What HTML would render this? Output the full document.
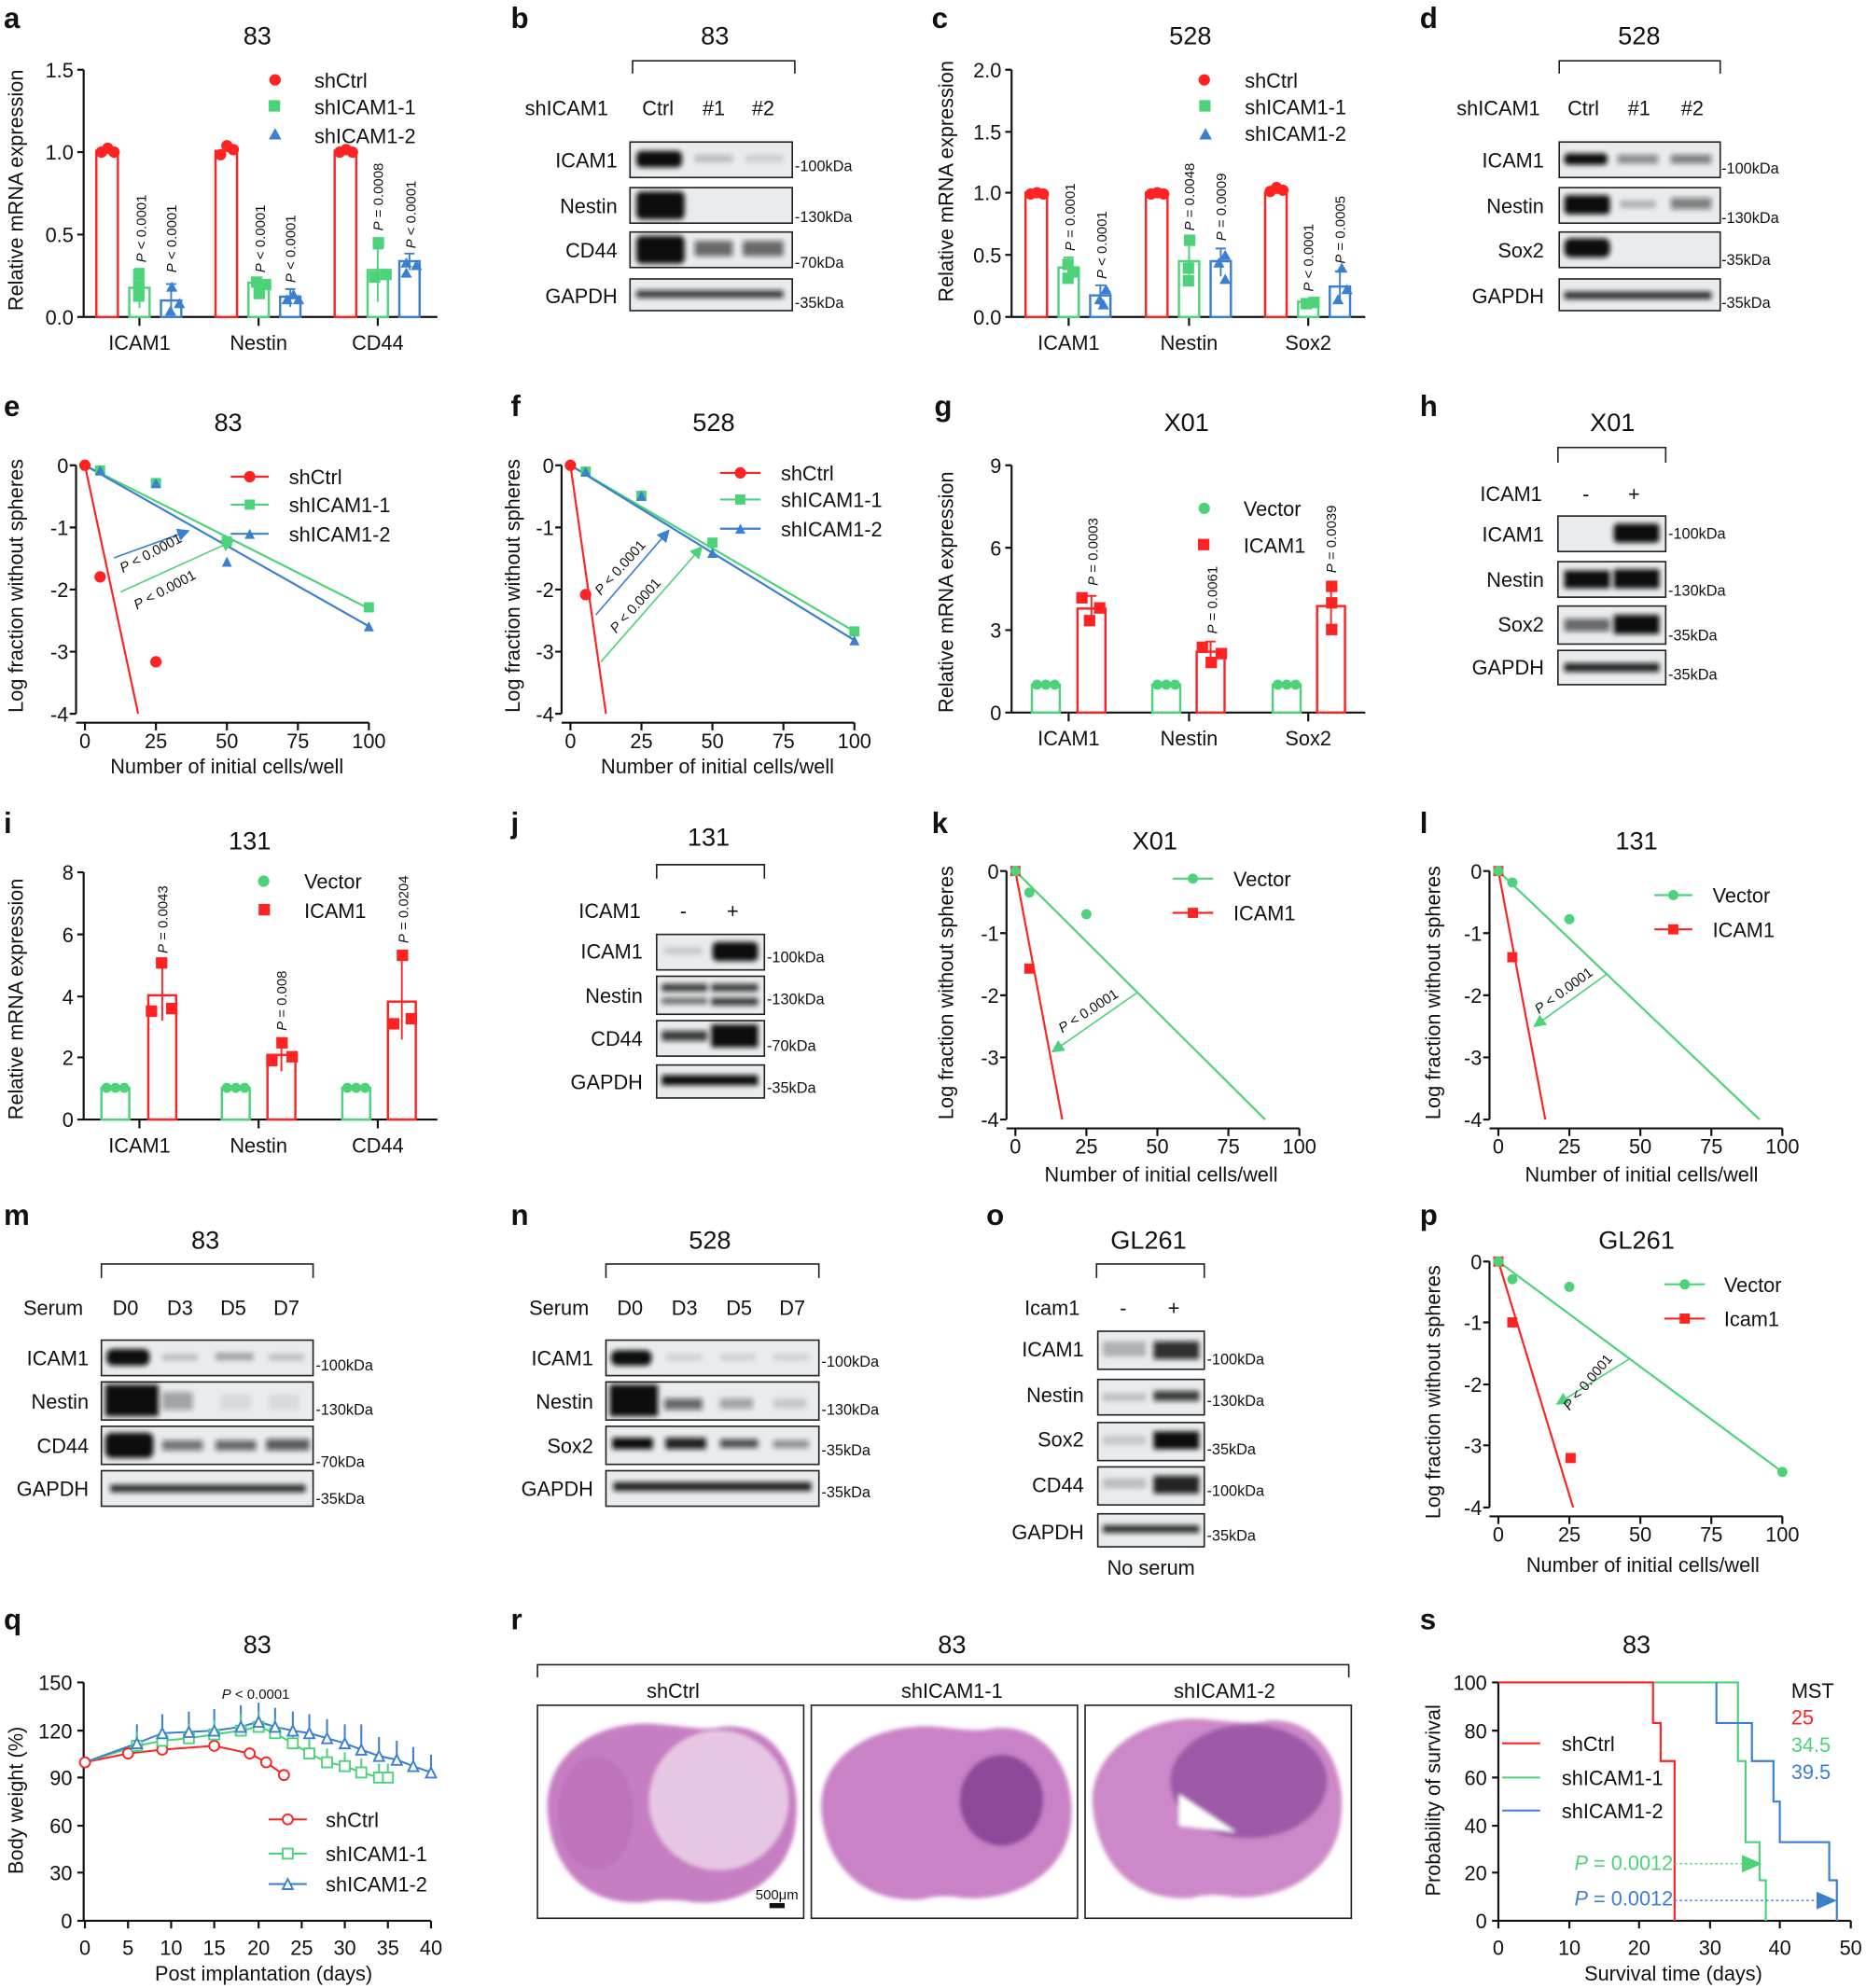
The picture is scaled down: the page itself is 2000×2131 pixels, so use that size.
<!DOCTYPE html>
<html><head><meta charset="utf-8"><style>
html,body{margin:0;padding:0;background:#fff}
svg{display:block}
text{font-family:"Liberation Sans",Arial,sans-serif;fill:#111}
.t{font-size:16px}.ti{font-size:20px}.L{font-size:23px;font-weight:bold}.s{font-size:12px}.p{font-size:11px}
.ax{stroke:#111;stroke-width:1.6;fill:none}
.bx{fill:#e9ecee;stroke:#222;stroke-width:1.2}
.br{fill:none;stroke:#222;stroke-width:1.2}
</style></head><body>
<svg width="2000" height="2131" viewBox="0 0 1472 1568" preserveAspectRatio="none" xmlns="http://www.w3.org/2000/svg">
<defs>
<filter id="bl" x="-30%" y="-80%" width="160%" height="260%"><feGaussianBlur stdDeviation="2"/></filter>
<filter id="bs"><feGaussianBlur stdDeviation="1.5"/></filter>
<marker id="ag" markerWidth="10" markerHeight="10" refX="8" refY="5" orient="auto" markerUnits="userSpaceOnUse"><path d="M0,0L10,5L0,10z" fill="#4cd37a"/></marker>
<marker id="ab" markerWidth="10" markerHeight="10" refX="8" refY="5" orient="auto" markerUnits="userSpaceOnUse"><path d="M0,0L10,5L0,10z" fill="#3b7fd0"/></marker>
<marker id="ag2" markerWidth="16" markerHeight="14" refX="14" refY="7" orient="auto" markerUnits="userSpaceOnUse"><path d="M0,0L16,7L0,14z" fill="#4cd37a"/></marker>
<marker id="ab2" markerWidth="16" markerHeight="14" refX="14" refY="7" orient="auto" markerUnits="userSpaceOnUse"><path d="M0,0L16,7L0,14z" fill="#3b7fd0"/></marker>
</defs>
<rect width="1472" height="1568" fill="#fff"/>

<text x="3" y="22" class="L">a</text><text x="403" y="22" class="L">b</text><text x="735" y="22" class="L">c</text><text x="1120" y="22" class="L">d</text>
<text x="3" y="328" class="L">e</text><text x="403" y="328" class="L">f</text><text x="737" y="328" class="L">g</text><text x="1120" y="328" class="L">h</text>
<text x="3" y="657" class="L">i</text><text x="403" y="657" class="L">j</text><text x="735" y="657" class="L">k</text><text x="1120" y="657" class="L">l</text>
<text x="3" y="966" class="L">m</text><text x="403" y="966" class="L">n</text><text x="778" y="966" class="L">o</text><text x="1120" y="966" class="L">p</text>
<text x="3" y="1285" class="L">q</text><text x="403" y="1285" class="L">r</text><text x="1120" y="1285" class="L">s</text>

<!-- ============ a ============ -->
<text x="203" y="35" class="ti" text-anchor="middle">83</text>
<text transform="translate(18,150) rotate(-90)" class="t" text-anchor="middle">Relative mRNA expression</text>
<path class="ax" d="M66,55V250H345M61,55H66M61,120H66M61,185H66M61,250H66M110,250V257M204,250V257M298,250V257"/>
<g class="t" text-anchor="end"><text x="58" y="61">1.5</text><text x="58" y="126">1.0</text><text x="58" y="191">0.5</text><text x="58" y="256">0.0</text></g>
<g class="t" text-anchor="middle"><text x="110" y="276">ICAM1</text><text x="204" y="276">Nestin</text><text x="298" y="276">CD44</text></g>
<g fill="#fff" stroke-width="1.8">
<rect x="76" y="119" width="17" height="131" stroke="#f22"/><rect x="102" y="227" width="16" height="23" stroke="#4cd37a"/><rect x="127" y="237" width="16" height="13" stroke="#3b7fd0"/>
<rect x="170" y="119" width="17" height="131" stroke="#f22"/><rect x="196" y="223" width="16" height="27" stroke="#4cd37a"/><rect x="221" y="234" width="16" height="16" stroke="#3b7fd0"/>
<rect x="264" y="119" width="17" height="131" stroke="#f22"/><rect x="290" y="213" width="16" height="37" stroke="#4cd37a"/><rect x="315" y="206" width="16" height="44" stroke="#3b7fd0"/>
</g>
<g stroke-width="1.4" fill="none"><path d="M110,212V243M106,212H114" stroke="#4cd37a"/><path d="M135,224V249M131,224H139" stroke="#3b7fd0"/><path d="M229,228V242M225,228H233" stroke="#3b7fd0"/><path d="M298,196V238M294,196H302" stroke="#4cd37a"/><path d="M323,200V213M319,200H327" stroke="#3b7fd0"/></g>
<g fill="#f22"><circle cx="80" cy="120" r="4.5"/><circle cx="85" cy="117" r="4.5"/><circle cx="90" cy="120" r="4.5"/><circle cx="174" cy="122" r="4.5"/><circle cx="179" cy="115" r="4.5"/><circle cx="184" cy="118" r="4.5"/><circle cx="268" cy="120" r="4.5"/><circle cx="273" cy="118" r="4.5"/><circle cx="278" cy="120" r="4.5"/></g>
<g fill="#4cd37a"><rect x="105" y="212" width="9" height="9"/><rect x="105" y="221" width="9" height="9"/><rect x="105" y="229" width="9" height="9"/><rect x="198" y="218" width="9" height="9"/><rect x="205" y="220" width="9" height="9"/><rect x="200" y="227" width="9" height="9"/><rect x="294" y="187" width="9" height="9"/><rect x="291" y="214" width="9" height="9"/><rect x="300" y="212" width="9" height="9"/></g>
<g fill="#3b7fd0"><path d="M130,249l4.5,-8l4.5,8z M131,230l4.5,-8l4.5,8z M137,243l4.5,-8l4.5,8z M222,240l4.5,-8l4.5,8z M227,236l4.5,-8l4.5,8z M231,240l4.5,-8l4.5,8z M316,219l4.5,-8l4.5,8z M316,211l4.5,-8l4.5,8z M324,213l4.5,-8l4.5,8z"/></g>
<g class="p" font-style="normal">
<text transform="translate(115,207) rotate(-90)" class="p"><tspan font-style="italic">P</tspan> &lt; 0.0001</text>
<text transform="translate(139,215) rotate(-90)" class="p"><tspan font-style="italic">P</tspan> &lt; 0.0001</text>
<text transform="translate(209,215) rotate(-90)" class="p"><tspan font-style="italic">P</tspan> &lt; 0.0001</text>
<text transform="translate(233,223) rotate(-90)" class="p"><tspan font-style="italic">P</tspan> &lt; 0.0001</text>
<text transform="translate(302,182) rotate(-90)" class="p"><tspan font-style="italic">P</tspan> = 0.0008</text>
<text transform="translate(328,196) rotate(-90)" class="p"><tspan font-style="italic">P</tspan> &lt; 0.0001</text>
</g>
<circle cx="217" cy="63" r="4.5" fill="#f22"/><rect x="212" y="79" width="9" height="9" fill="#4cd37a"/><path d="M212,110l5,-9l5,9z" fill="#3b7fd0"/>
<g class="t"><text x="248" y="69">shCtrl</text><text x="248" y="90">shICAM1-1</text><text x="248" y="113">shICAM1-2</text></g>

<!-- ============ b ============ -->
<text x="564" y="35" class="ti" text-anchor="middle">83</text>
<path class="br" d="M499,58V48H627V58"/>
<g class="t" text-anchor="middle"><text x="447" y="91">shICAM1</text><text x="519" y="91">Ctrl</text><text x="563" y="91">#1</text><text x="602" y="91">#2</text></g>
<g class="t" text-anchor="end"><text x="487" y="132">ICAM1</text><text x="487" y="168">Nestin</text><text x="487" y="203">CD44</text><text x="487" y="239">GAPDH</text></g>
<rect class="bx" x="497" y="112" width="128" height="28"/><rect class="bx" x="497" y="148" width="128" height="28"/><rect class="bx" x="497" y="183" width="128" height="28"/><rect class="bx" x="497" y="220" width="128" height="25"/>
<g fill="#111" filter="url(#bl)">
<rect x="502" y="119" width="36" height="13" rx="4"/><rect x="548" y="122" width="30" height="6" opacity=".2"/><rect x="588" y="122" width="30" height="6" opacity=".12"/>
<rect x="502" y="151" width="38" height="22" rx="4"/>
<rect x="502" y="186" width="38" height="22" rx="4"/><rect x="548" y="190" width="30" height="12" opacity=".6"/><rect x="586" y="190" width="32" height="12" opacity=".6"/>
<rect x="502" y="229" width="116" height="6" opacity=".8"/>
</g>
<g class="s"><text x="627" y="135">-100kDa</text><text x="627" y="175">-130kDa</text><text x="627" y="211">-70kDa</text><text x="627" y="243">-35kDa</text></g>

<!-- ============ c ============ -->
<text x="939" y="35" class="ti" text-anchor="middle">528</text>
<text transform="translate(752,143) rotate(-90)" class="t" text-anchor="middle">Relative mRNA expression</text>
<path class="ax" d="M798,55V250H1077M793,55H798M793,104H798M793,152H798M793,201H798M793,250H798M843,250V257M938,250V257M1032,250V257"/>
<g class="t" text-anchor="end"><text x="790" y="61">2.0</text><text x="790" y="110">1.5</text><text x="790" y="158">1.0</text><text x="790" y="207">0.5</text><text x="790" y="256">0.0</text></g>
<g class="t" text-anchor="middle"><text x="843" y="276">ICAM1</text><text x="938" y="276">Nestin</text><text x="1032" y="276">Sox2</text></g>
<g fill="#fff" stroke-width="1.8">
<rect x="809" y="152" width="17" height="98" stroke="#f22"/><rect x="835" y="211" width="16" height="39" stroke="#4cd37a"/><rect x="860" y="233" width="16" height="17" stroke="#3b7fd0"/>
<rect x="904" y="152" width="17" height="98" stroke="#f22"/><rect x="930" y="206" width="16" height="44" stroke="#4cd37a"/><rect x="955" y="206" width="16" height="44" stroke="#3b7fd0"/>
<rect x="998" y="152" width="17" height="98" stroke="#f22"/><rect x="1024" y="238" width="16" height="12" stroke="#4cd37a"/><rect x="1049" y="226" width="16" height="24" stroke="#3b7fd0"/>
</g>
<g stroke-width="1.4"><path d="M843,203V218M839,203H847" stroke="#4cd37a"/><path d="M868,225V241M864,225H872" stroke="#3b7fd0"/><path d="M938,188V225M934,188H942" stroke="#4cd37a"/><path d="M963,196V218M959,196H967" stroke="#3b7fd0"/><path d="M1057,214V238M1053,214H1061" stroke="#3b7fd0"/></g>
<g fill="#f22"><circle cx="813" cy="153" r="4.5"/><circle cx="818" cy="152" r="4.5"/><circle cx="823" cy="153" r="4.5"/><circle cx="908" cy="153" r="4.5"/><circle cx="913" cy="152" r="4.5"/><circle cx="918" cy="153" r="4.5"/><circle cx="1002" cy="151" r="4.5"/><circle cx="1007" cy="148" r="4.5"/><circle cx="1012" cy="150" r="4.5"/></g>
<g fill="#4cd37a"><rect x="838" y="204" width="9" height="9"/><rect x="842" y="210" width="9" height="9"/><rect x="838" y="215" width="9" height="9"/><rect x="934" y="185" width="9" height="9"/><rect x="933" y="207" width="9" height="9"/><rect x="933" y="217" width="9" height="9"/><rect x="1026" y="235" width="9" height="9"/><rect x="1032" y="234" width="9" height="9"/></g>
<g fill="#3b7fd0"><path d="M863,240l4.5,-8l4.5,8z M868,232l4.5,-8l4.5,8z M866,244l4.5,-8l4.5,8z M957,211l4.5,-8l4.5,8z M962,205l4.5,-8l4.5,8z M962,224l4.5,-8l4.5,8z M1051,240l4.5,-8l4.5,8z M1054,215l4.5,-8l4.5,8z M1058,232l4.5,-8l4.5,8z"/></g>
<text transform="translate(848,198) rotate(-90)" class="p"><tspan font-style="italic">P</tspan> = 0.0001</text>
<text transform="translate(873,220) rotate(-90)" class="p"><tspan font-style="italic">P</tspan> &lt; 0.0001</text>
<text transform="translate(942,182) rotate(-90)" class="p"><tspan font-style="italic">P</tspan> = 0.0048</text>
<text transform="translate(967,190) rotate(-90)" class="p"><tspan font-style="italic">P</tspan> = 0.0009</text>
<text transform="translate(1036,230) rotate(-90)" class="p"><tspan font-style="italic">P</tspan> &lt; 0.0001</text>
<text transform="translate(1061,208) rotate(-90)" class="p"><tspan font-style="italic">P</tspan> = 0.0005</text>
<circle cx="950" cy="63" r="4.5" fill="#f22"/><rect x="946" y="79" width="9" height="9" fill="#4cd37a"/><path d="M946,110l5,-9l5,9z" fill="#3b7fd0"/>
<g class="t"><text x="982" y="69">shCtrl</text><text x="982" y="90">shICAM1-1</text><text x="982" y="111">shICAM1-2</text></g>

<!-- ============ d ============ -->
<text x="1293" y="35" class="ti" text-anchor="middle">528</text>
<path class="br" d="M1230,58V48H1357V58"/>
<g class="t" text-anchor="middle"><text x="1182" y="91">shICAM1</text><text x="1249" y="91">Ctrl</text><text x="1293" y="91">#1</text><text x="1335" y="91">#2</text></g>
<g class="t" text-anchor="end"><text x="1218" y="132">ICAM1</text><text x="1218" y="168">Nestin</text><text x="1218" y="203">Sox2</text><text x="1218" y="239">GAPDH</text></g>
<rect class="bx" x="1230" y="112" width="127" height="28"/><rect class="bx" x="1230" y="148" width="127" height="28"/><rect class="bx" x="1230" y="183" width="127" height="28"/><rect class="bx" x="1230" y="220" width="127" height="25"/>
<g fill="#111" filter="url(#bl)">
<rect x="1234" y="121" width="34" height="9" rx="3"/><rect x="1276" y="122" width="32" height="7" opacity=".45"/><rect x="1318" y="122" width="32" height="7" opacity=".5"/>
<rect x="1234" y="154" width="36" height="15" rx="3"/><rect x="1278" y="158" width="28" height="6" opacity=".25"/><rect x="1318" y="156" width="32" height="9" opacity=".5"/>
<rect x="1234" y="188" width="36" height="15" rx="5"/>
<rect x="1234" y="230" width="116" height="6" opacity=".85"/>
</g>
<g class="s"><text x="1358" y="137">-100kDa</text><text x="1358" y="176">-130kDa</text><text x="1358" y="209">-35kDa</text><text x="1358" y="243">-35kDa</text></g>

<!-- ============ e ============ -->
<text x="180" y="340" class="ti" text-anchor="middle">83</text>
<text transform="translate(18,462) rotate(-90)" class="t" text-anchor="middle">Log fraction without spheres</text>
<path class="ax" d="M60,367V563M55,367H60M55,416H60M55,465H60M55,514H60M55,563H60M60,570H291M67,570V576M123,570V576M179,570V576M235,570V576M291,570V576"/>
<g class="t" text-anchor="end"><text x="54" y="373">0</text><text x="54" y="422">-1</text><text x="54" y="471">-2</text><text x="54" y="520">-3</text><text x="54" y="569">-4</text></g>
<g class="t" text-anchor="middle"><text x="67" y="590">0</text><text x="123" y="590">25</text><text x="179" y="590">50</text><text x="235" y="590">75</text><text x="291" y="590">100</text><text x="179" y="610">Number of initial cells/well</text></g>
<line x1="67" y1="367" x2="109" y2="563" stroke="#f22" stroke-width="1.6"/>
<line x1="67" y1="367" x2="291" y2="480" stroke="#4cd37a" stroke-width="1.6"/>
<line x1="67" y1="367" x2="291" y2="494" stroke="#3b7fd0" stroke-width="1.6"/>
<g fill="#f22"><circle cx="67" cy="367" r="4.5"/><circle cx="79" cy="455" r="4.5"/><circle cx="123" cy="522" r="4.5"/></g>
<g fill="#4cd37a"><rect x="75" y="367" width="8" height="8"/><rect x="119" y="377" width="8" height="8"/><rect x="175" y="423" width="8" height="8"/><rect x="287" y="475" width="8" height="8"/></g>
<g fill="#3b7fd0"><path d="M75,375l4,-8l4,8z M119,385l4,-8l4,8z M175,447l4,-8l4,8z M287,498l4,-8l4,8z"/></g>
<line x1="90" y1="440" x2="148" y2="419" stroke="#3b7fd0" stroke-width="1.2" marker-end="url(#ab)"/>
<line x1="95" y1="467" x2="183" y2="427" stroke="#4cd37a" stroke-width="1.2" marker-end="url(#ag)"/>
<text transform="translate(97,452) rotate(-28)" class="p"><tspan font-style="italic">P</tspan> &lt; 0.0001</text>
<text transform="translate(108,481) rotate(-28)" class="p"><tspan font-style="italic">P</tspan> &lt; 0.0001</text>
<g stroke-width="1.6"><line x1="182" y1="376" x2="212" y2="376" stroke="#f22"/><line x1="182" y1="398" x2="212" y2="398" stroke="#4cd37a"/><line x1="182" y1="421" x2="212" y2="421" stroke="#3b7fd0"/></g>
<circle cx="197" cy="376" r="4.5" fill="#f22"/><rect x="193" y="394" width="8" height="8" fill="#4cd37a"/><path d="M193,425l4,-8l4,8z" fill="#3b7fd0"/>
<g class="t"><text x="228" y="382">shCtrl</text><text x="228" y="404">shICAM1-1</text><text x="228" y="427">shICAM1-2</text></g>

<!-- ============ f ============ -->
<text x="563" y="340" class="ti" text-anchor="middle">528</text>
<text transform="translate(410,462) rotate(-90)" class="t" text-anchor="middle">Log fraction without spheres</text>
<path class="ax" d="M443,367V563M438,367H443M438,416H443M438,465H443M438,514H443M438,563H443M443,570H674M450,570V576M506,570V576M562,570V576M618,570V576M674,570V576"/>
<g class="t" text-anchor="end"><text x="437" y="373">0</text><text x="437" y="422">-1</text><text x="437" y="471">-2</text><text x="437" y="520">-3</text><text x="437" y="569">-4</text></g>
<g class="t" text-anchor="middle"><text x="450" y="590">0</text><text x="506" y="590">25</text><text x="562" y="590">50</text><text x="618" y="590">75</text><text x="674" y="590">100</text><text x="566" y="610">Number of initial cells/well</text></g>
<line x1="450" y1="367" x2="478" y2="563" stroke="#f22" stroke-width="1.6"/>
<line x1="450" y1="367" x2="674" y2="498" stroke="#4cd37a" stroke-width="1.6"/>
<line x1="450" y1="367" x2="674" y2="505" stroke="#3b7fd0" stroke-width="1.6"/>
<g fill="#f22"><circle cx="450" cy="367" r="4.5"/><circle cx="462" cy="469" r="4.5"/></g>
<g fill="#4cd37a"><rect x="458" y="368" width="8" height="8"/><rect x="502" y="387" width="8" height="8"/><rect x="558" y="424" width="8" height="8"/><rect x="670" y="494" width="8" height="8"/></g>
<g fill="#3b7fd0"><path d="M458,376l4,-8l4,8z M502,395l4,-8l4,8z M558,440l4,-8l4,8z M670,509l4,-8l4,8z"/></g>
<line x1="470" y1="485" x2="527" y2="419" stroke="#3b7fd0" stroke-width="1.2" marker-end="url(#ab)"/>
<line x1="474" y1="522" x2="553" y2="432" stroke="#4cd37a" stroke-width="1.2" marker-end="url(#ag)"/>
<text transform="translate(474,470) rotate(-48)" class="p"><tspan font-style="italic">P</tspan> &lt; 0.0001</text>
<text transform="translate(486,500) rotate(-48)" class="p"><tspan font-style="italic">P</tspan> &lt; 0.0001</text>
<g stroke-width="1.6"><line x1="568" y1="373" x2="600" y2="373" stroke="#f22"/><line x1="568" y1="394" x2="600" y2="394" stroke="#4cd37a"/><line x1="568" y1="417" x2="600" y2="417" stroke="#3b7fd0"/></g>
<circle cx="584" cy="373" r="4.5" fill="#f22"/><rect x="580" y="390" width="8" height="8" fill="#4cd37a"/><path d="M580,421l4,-8l4,8z" fill="#3b7fd0"/>
<g class="t"><text x="616" y="379">shCtrl</text><text x="616" y="400">shICAM1-1</text><text x="616" y="423">shICAM1-2</text></g>

<!-- ============ g ============ -->
<text x="936" y="340" class="ti" text-anchor="middle">X01</text>
<text transform="translate(752,467) rotate(-90)" class="t" text-anchor="middle">Relative mRNA expression</text>
<path class="ax" d="M798,367V562H1077M793,367H798M793,432H798M793,497H798M793,562H798M843,562V569M938,562V569M1032,562V569"/>
<g class="t" text-anchor="end"><text x="790" y="373">9</text><text x="790" y="438">6</text><text x="790" y="503">3</text><text x="790" y="568">0</text></g>
<g class="t" text-anchor="middle"><text x="843" y="588">ICAM1</text><text x="938" y="588">Nestin</text><text x="1032" y="588">Sox2</text></g>
<g fill="#fff" stroke-width="1.8">
<rect x="814" y="540" width="22" height="22" stroke="#4cd37a"/><rect x="850" y="480" width="22" height="82" stroke="#f22"/>
<rect x="909" y="540" width="22" height="22" stroke="#4cd37a"/><rect x="944" y="514" width="22" height="48" stroke="#f22"/>
<rect x="1004" y="540" width="22" height="22" stroke="#4cd37a"/><rect x="1039" y="478" width="22" height="84" stroke="#f22"/>
</g>
<g stroke="#f22" stroke-width="1.4"><path d="M861,470V490M857,470H865"/><path d="M955,506V522M951,506H959"/><path d="M1050,460V497M1046,460H1054"/></g>
<g fill="#4cd37a"><circle cx="818" cy="540" r="4"/><circle cx="825" cy="540" r="4"/><circle cx="832" cy="540" r="4"/><circle cx="913" cy="540" r="4"/><circle cx="920" cy="540" r="4"/><circle cx="927" cy="540" r="4"/><circle cx="1008" cy="540" r="4"/><circle cx="1015" cy="540" r="4"/><circle cx="1022" cy="540" r="4"/></g>
<g fill="#f22"><rect x="849" y="467" width="9" height="9"/><rect x="855" y="485" width="9" height="9"/><rect x="863" y="475" width="9" height="9"/><rect x="944" y="506" width="9" height="9"/><rect x="951" y="518" width="9" height="9"/><rect x="959" y="511" width="9" height="9"/><rect x="1046" y="458" width="9" height="9"/><rect x="1046" y="471" width="9" height="9"/><rect x="1046" y="492" width="9" height="9"/></g>
<text transform="translate(866,462) rotate(-90)" class="p"><tspan font-style="italic">P</tspan> = 0.0003</text>
<text transform="translate(960,500) rotate(-90)" class="p"><tspan font-style="italic">P</tspan> = 0.0061</text>
<text transform="translate(1054,452) rotate(-90)" class="p"><tspan font-style="italic">P</tspan> = 0.0039</text>
<circle cx="950" cy="401" r="4.5" fill="#4cd37a"/><rect x="945" y="425" width="9" height="9" fill="#f22"/>
<g class="t"><text x="981" y="407">Vector</text><text x="981" y="436">ICAM1</text></g>

<!-- ============ h ============ -->
<text x="1272" y="340" class="ti" text-anchor="middle">X01</text>
<path class="br" d="M1229,365V353H1314V365"/>
<g class="t" text-anchor="middle"><text x="1192" y="395">ICAM1</text><text x="1251" y="395">-</text><text x="1289" y="395">+</text></g>
<g class="t" text-anchor="end"><text x="1218" y="427">ICAM1</text><text x="1218" y="463">Nestin</text><text x="1218" y="498">Sox2</text><text x="1218" y="532">GAPDH</text></g>
<rect class="bx" x="1229" y="407" width="85" height="28"/><rect class="bx" x="1229" y="443" width="85" height="28"/><rect class="bx" x="1229" y="478" width="85" height="30"/><rect class="bx" x="1229" y="513" width="85" height="27"/>
<g fill="#111" filter="url(#bl)">
<rect x="1273" y="413" width="36" height="15" rx="3"/>
<rect x="1234" y="450" width="36" height="14"/><rect x="1273" y="449" width="36" height="15"/>
<rect x="1234" y="488" width="36" height="10" opacity=".6"/><rect x="1273" y="485" width="36" height="15"/>
<rect x="1234" y="523" width="75" height="7" opacity=".9"/>
</g>
<g class="s"><text x="1316" y="425">-100kDa</text><text x="1316" y="470">-130kDa</text><text x="1316" y="505">-35kDa</text><text x="1316" y="536">-35kDa</text></g>

<!-- ============ i ============ -->
<text x="197" y="670" class="ti" text-anchor="middle">131</text>
<text transform="translate(18,788) rotate(-90)" class="t" text-anchor="middle">Relative mRNA expression</text>
<path class="ax" d="M66,688V883H345M61,688H66M61,737H66M61,786H66M61,834H66M61,883H66M110,883V890M204,883V890M298,883V890"/>
<g class="t" text-anchor="end"><text x="58" y="694">8</text><text x="58" y="743">6</text><text x="58" y="792">4</text><text x="58" y="840">2</text><text x="58" y="889">0</text></g>
<g class="t" text-anchor="middle"><text x="110" y="909">ICAM1</text><text x="204" y="909">Nestin</text><text x="298" y="909">CD44</text></g>
<g fill="#fff" stroke-width="1.8">
<rect x="80" y="858" width="22" height="25" stroke="#4cd37a"/><rect x="117" y="785" width="22" height="98" stroke="#f22"/>
<rect x="175" y="858" width="22" height="25" stroke="#4cd37a"/><rect x="211" y="832" width="22" height="51" stroke="#f22"/>
<rect x="270" y="858" width="22" height="25" stroke="#4cd37a"/><rect x="306" y="790" width="22" height="93" stroke="#f22"/>
</g>
<g stroke="#f22" stroke-width="1.4"><path d="M128,757V805M124,757H132"/><path d="M222,820V845M218,820H226"/><path d="M317,752V820M313,752H321"/></g>
<g fill="#4cd37a"><circle cx="84" cy="858" r="4"/><circle cx="91" cy="858" r="4"/><circle cx="98" cy="858" r="4"/><circle cx="179" cy="858" r="4"/><circle cx="186" cy="858" r="4"/><circle cx="193" cy="858" r="4"/><circle cx="274" cy="858" r="4"/><circle cx="281" cy="858" r="4"/><circle cx="288" cy="858" r="4"/></g>
<g fill="#f22"><rect x="115" y="793" width="9" height="9"/><rect x="123" y="755" width="9" height="9"/><rect x="131" y="791" width="9" height="9"/><rect x="210" y="832" width="9" height="9"/><rect x="218" y="818" width="9" height="9"/><rect x="226" y="829" width="9" height="9"/><rect x="306" y="803" width="9" height="9"/><rect x="313" y="749" width="9" height="9"/><rect x="320" y="799" width="9" height="9"/></g>
<text transform="translate(132,752) rotate(-90)" class="p"><tspan font-style="italic">P</tspan> = 0.0043</text>
<text transform="translate(226,813) rotate(-90)" class="p"><tspan font-style="italic">P</tspan> = 0.008</text>
<text transform="translate(322,744) rotate(-90)" class="p"><tspan font-style="italic">P</tspan> = 0.0204</text>
<circle cx="208" cy="695" r="4.5" fill="#4cd37a"/><rect x="204" y="713" width="9" height="9" fill="#f22"/>
<g class="t"><text x="240" y="701">Vector</text><text x="240" y="724">ICAM1</text></g>

<!-- ============ j ============ -->
<text x="559" y="667" class="ti" text-anchor="middle">131</text>
<path class="br" d="M518,693V682H603V693"/>
<g class="t" text-anchor="middle"><text x="481" y="724">ICAM1</text><text x="539" y="724">-</text><text x="578" y="724">+</text></g>
<g class="t" text-anchor="end"><text x="507" y="756">ICAM1</text><text x="507" y="791">Nestin</text><text x="507" y="825">CD44</text><text x="507" y="859">GAPDH</text></g>
<rect class="bx" x="518" y="737" width="85" height="28"/><rect class="bx" x="518" y="770" width="85" height="30"/><rect class="bx" x="518" y="805" width="85" height="28"/><rect class="bx" x="518" y="840" width="85" height="26"/>
<g fill="#111" filter="url(#bl)">
<rect x="524" y="747" width="30" height="6" opacity=".15"/><rect x="562" y="743" width="36" height="15" rx="4"/>
<rect x="522" y="776" width="36" height="6" opacity=".8"/><rect x="561" y="776" width="37" height="6" opacity=".8"/><rect x="522" y="787" width="36" height="5" opacity=".6"/><rect x="561" y="787" width="37" height="6" opacity=".8"/>
<rect x="522" y="813" width="36" height="8" opacity=".8"/><rect x="561" y="808" width="37" height="18"/>
<rect x="522" y="848" width="76" height="8"/>
</g>
<g class="s"><text x="605" y="759">-100kDa</text><text x="605" y="792">-130kDa</text><text x="605" y="829">-70kDa</text><text x="605" y="862">-35kDa</text></g>

<!-- ============ k ============ -->
<text x="911" y="670" class="ti" text-anchor="middle">X01</text>
<text transform="translate(752,783) rotate(-90)" class="t" text-anchor="middle">Log fraction without spheres</text>
<path class="ax" d="M794,687V883M789,687H794M789,736H794M789,785H794M789,834H794M789,883H794M794,890H1025M801,890V896M857,890V896M913,890V896M969,890V896M1025,890V896"/>
<g class="t" text-anchor="end"><text x="788" y="693">0</text><text x="788" y="742">-1</text><text x="788" y="791">-2</text><text x="788" y="840">-3</text><text x="788" y="889">-4</text></g>
<g class="t" text-anchor="middle"><text x="801" y="910">0</text><text x="857" y="910">25</text><text x="913" y="910">50</text><text x="969" y="910">75</text><text x="1025" y="910">100</text><text x="916" y="932">Number of initial cells/well</text></g>
<line x1="801" y1="687" x2="838" y2="883" stroke="#f22" stroke-width="1.6"/>
<line x1="801" y1="687" x2="998" y2="883" stroke="#4cd37a" stroke-width="1.6"/>
<rect x="797" y="683" width="8" height="8" fill="#f22"/><rect x="808" y="760" width="8" height="8" fill="#f22"/>
<circle cx="801" cy="687" r="4" fill="#4cd37a"/><circle cx="812" cy="704" r="4" fill="#4cd37a"/><circle cx="857" cy="721" r="4" fill="#4cd37a"/>
<line x1="897" y1="783" x2="831" y2="829" stroke="#4cd37a" stroke-width="1.2" marker-end="url(#ag)"/>
<text transform="translate(838,815) rotate(-33)" class="p"><tspan font-style="italic">P</tspan> &lt; 0.0001</text>
<g stroke-width="1.6"><line x1="925" y1="693" x2="957" y2="693" stroke="#4cd37a"/><line x1="925" y1="720" x2="957" y2="720" stroke="#f22"/></g>
<circle cx="941" cy="693" r="4" fill="#4cd37a"/><rect x="937" y="716" width="8" height="8" fill="#f22"/>
<g class="t"><text x="973" y="699">Vector</text><text x="973" y="726">ICAM1</text></g>

<!-- ============ l ============ -->
<text x="1291" y="670" class="ti" text-anchor="middle">131</text>
<text transform="translate(1136,783) rotate(-90)" class="t" text-anchor="middle">Log fraction without spheres</text>
<path class="ax" d="M1175,687V883M1170,687H1175M1170,736H1175M1170,785H1175M1170,834H1175M1170,883H1175M1175,890H1406M1182,890V896M1238,890V896M1294,890V896M1350,890V896M1406,890V896"/>
<g class="t" text-anchor="end"><text x="1169" y="693">0</text><text x="1169" y="742">-1</text><text x="1169" y="791">-2</text><text x="1169" y="840">-3</text><text x="1169" y="889">-4</text></g>
<g class="t" text-anchor="middle"><text x="1182" y="910">0</text><text x="1238" y="910">25</text><text x="1294" y="910">50</text><text x="1350" y="910">75</text><text x="1406" y="910">100</text><text x="1295" y="932">Number of initial cells/well</text></g>
<line x1="1182" y1="687" x2="1219" y2="883" stroke="#f22" stroke-width="1.6"/>
<line x1="1182" y1="687" x2="1388" y2="883" stroke="#4cd37a" stroke-width="1.6"/>
<rect x="1178" y="683" width="8" height="8" fill="#f22"/><rect x="1189" y="751" width="8" height="8" fill="#f22"/>
<circle cx="1182" cy="687" r="4" fill="#4cd37a"/><circle cx="1193" cy="696" r="4" fill="#4cd37a"/><circle cx="1238" cy="725" r="4" fill="#4cd37a"/>
<line x1="1268" y1="768" x2="1211" y2="809" stroke="#4cd37a" stroke-width="1.2" marker-end="url(#ag)"/>
<text transform="translate(1214,800) rotate(-36)" class="p"><tspan font-style="italic">P</tspan> &lt; 0.0001</text>
<g stroke-width="1.6"><line x1="1305" y1="706" x2="1335" y2="706" stroke="#4cd37a"/><line x1="1305" y1="733" x2="1335" y2="733" stroke="#f22"/></g>
<circle cx="1320" cy="706" r="4" fill="#4cd37a"/><rect x="1316" y="729" width="8" height="8" fill="#f22"/>
<g class="t"><text x="1351" y="712">Vector</text><text x="1351" y="739">ICAM1</text></g>

<!-- ============ m ============ -->
<text x="162" y="985" class="ti" text-anchor="middle">83</text>
<path class="br" d="M80,1008V997H247V1008"/>
<g class="t" text-anchor="middle"><text x="42" y="1037">Serum</text><text x="99" y="1037">D0</text><text x="142" y="1037">D3</text><text x="184" y="1037">D5</text><text x="226" y="1037">D7</text></g>
<g class="t" text-anchor="end"><text x="70" y="1077">ICAM1</text><text x="70" y="1111">Nestin</text><text x="70" y="1146">CD44</text><text x="70" y="1180">GAPDH</text></g>
<rect class="bx" x="80" y="1057" width="167" height="28"/><rect class="bx" x="80" y="1090" width="167" height="30"/><rect class="bx" x="80" y="1125" width="167" height="30"/><rect class="bx" x="80" y="1160" width="167" height="28"/>
<g fill="#111" filter="url(#bl)">
<rect x="84" y="1064" width="34" height="13" rx="5"/><rect x="128" y="1068" width="28" height="5" opacity=".2"/><rect x="170" y="1067" width="30" height="6" opacity=".3"/><rect x="212" y="1068" width="28" height="5" opacity=".2"/>
<rect x="83" y="1092" width="42" height="25"/><rect x="128" y="1098" width="24" height="14" opacity=".35"/><rect x="174" y="1100" width="24" height="12" opacity=".08"/><rect x="212" y="1100" width="24" height="12" opacity=".08"/>
<rect x="83" y="1130" width="38" height="20" rx="5"/><rect x="128" y="1136" width="32" height="8" opacity=".55"/><rect x="170" y="1136" width="32" height="8" opacity=".6"/><rect x="210" y="1135" width="34" height="9" opacity=".65"/>
<rect x="87" y="1171" width="154" height="6" opacity=".85"/>
</g>
<g class="s"><text x="249" y="1081">-100kDa</text><text x="249" y="1116">-130kDa</text><text x="249" y="1157">-70kDa</text><text x="249" y="1186">-35kDa</text></g>

<!-- ============ n ============ -->
<text x="560" y="985" class="ti" text-anchor="middle">528</text>
<path class="br" d="M478,1008V997H646V1008"/>
<g class="t" text-anchor="middle"><text x="441" y="1037">Serum</text><text x="497" y="1037">D0</text><text x="540" y="1037">D3</text><text x="583" y="1037">D5</text><text x="625" y="1037">D7</text></g>
<g class="t" text-anchor="end"><text x="468" y="1077">ICAM1</text><text x="468" y="1111">Nestin</text><text x="468" y="1146">Sox2</text><text x="468" y="1180">GAPDH</text></g>
<rect class="bx" x="478" y="1057" width="168" height="28"/><rect class="bx" x="478" y="1090" width="168" height="30"/><rect class="bx" x="478" y="1125" width="168" height="30"/><rect class="bx" x="478" y="1160" width="168" height="28"/>
<g fill="#111" filter="url(#bl)">
<rect x="482" y="1065" width="32" height="12" rx="5"/><rect x="526" y="1068" width="28" height="5" opacity=".12"/><rect x="568" y="1068" width="28" height="5" opacity=".12"/><rect x="610" y="1068" width="28" height="5" opacity=".12"/>
<rect x="481" y="1092" width="38" height="25"/><rect x="524" y="1103" width="30" height="9" opacity=".6"/><rect x="568" y="1103" width="26" height="8" opacity=".35"/><rect x="610" y="1103" width="26" height="8" opacity=".15"/>
<rect x="483" y="1134" width="32" height="9"/><rect x="525" y="1134" width="32" height="9" opacity=".9"/><rect x="568" y="1135" width="30" height="7" opacity=".7"/><rect x="610" y="1136" width="28" height="6" opacity=".45"/>
<rect x="484" y="1169" width="156" height="7" opacity=".9"/>
</g>
<g class="s"><text x="648" y="1078">-100kDa</text><text x="648" y="1116">-130kDa</text><text x="648" y="1148">-35kDa</text><text x="648" y="1181">-35kDa</text></g>

<!-- ============ o ============ -->
<text x="906" y="985" class="ti" text-anchor="middle">GL261</text>
<path class="br" d="M865,1008V997H950V1008"/>
<g class="t" text-anchor="middle"><text x="830" y="1037">Icam1</text><text x="886" y="1037">-</text><text x="926" y="1037">+</text></g>
<g class="t" text-anchor="end"><text x="855" y="1070">ICAM1</text><text x="855" y="1106">Nestin</text><text x="855" y="1141">Sox2</text><text x="855" y="1177">CD44</text><text x="855" y="1214">GAPDH</text></g>
<rect class="bx" x="866" y="1050" width="84" height="30"/><rect class="bx" x="866" y="1088" width="84" height="28"/><rect class="bx" x="866" y="1122" width="84" height="30"/><rect class="bx" x="866" y="1157" width="84" height="30"/><rect class="bx" x="866" y="1194" width="84" height="26"/>
<g fill="#111" filter="url(#bl)">
<rect x="870" y="1058" width="34" height="12" opacity=".25"/><rect x="910" y="1058" width="36" height="14" opacity=".85"/>
<rect x="870" y="1099" width="34" height="6" opacity=".2"/><rect x="910" y="1097" width="36" height="8" opacity=".8"/>
<rect x="870" y="1132" width="34" height="8" opacity=".15"/><rect x="910" y="1129" width="36" height="14"/>
<rect x="870" y="1166" width="34" height="8" opacity=".2"/><rect x="910" y="1164" width="36" height="14" opacity=".9"/>
<rect x="870" y="1203" width="76" height="6" opacity=".85"/>
</g>
<g class="s"><text x="952" y="1076">-100kDa</text><text x="952" y="1109">-130kDa</text><text x="952" y="1147">-35kDa</text><text x="952" y="1180">-100kDa</text><text x="952" y="1215">-35kDa</text></g>
<text x="908" y="1242" class="t" text-anchor="middle">No serum</text>

<!-- ============ p ============ -->
<text x="1291" y="985" class="ti" text-anchor="middle">GL261</text>
<text transform="translate(1136,1098) rotate(-90)" class="t" text-anchor="middle">Log fraction without spheres</text>
<path class="ax" d="M1175,995V1189M1170,995H1175M1170,1043H1175M1170,1092H1175M1170,1140H1175M1170,1189H1175M1175,1196H1406M1182,1196V1202M1238,1196V1202M1294,1196V1202M1350,1196V1202M1406,1196V1202"/>
<g class="t" text-anchor="end"><text x="1169" y="1001">0</text><text x="1169" y="1049">-1</text><text x="1169" y="1098">-2</text><text x="1169" y="1146">-3</text><text x="1169" y="1195">-4</text></g>
<g class="t" text-anchor="middle"><text x="1182" y="1216">0</text><text x="1238" y="1216">25</text><text x="1294" y="1216">50</text><text x="1350" y="1216">75</text><text x="1406" y="1216">100</text><text x="1296" y="1240">Number of initial cells/well</text></g>
<line x1="1182" y1="995" x2="1241" y2="1189" stroke="#f22" stroke-width="1.6"/>
<line x1="1182" y1="995" x2="1406" y2="1161" stroke="#4cd37a" stroke-width="1.6"/>
<rect x="1178" y="991" width="8" height="8" fill="#f22"/><rect x="1189" y="1039" width="8" height="8" fill="#f22"/><rect x="1235" y="1146" width="8" height="8" fill="#f22"/>
<circle cx="1182" cy="995" r="4" fill="#4cd37a"/><circle cx="1193" cy="1009" r="4" fill="#4cd37a"/><circle cx="1238" cy="1015" r="4" fill="#4cd37a"/><circle cx="1406" cy="1161" r="4" fill="#4cd37a"/>
<line x1="1285" y1="1072" x2="1229" y2="1107" stroke="#4cd37a" stroke-width="1.2" marker-end="url(#ag)"/>
<text transform="translate(1238,1113) rotate(-50)" class="p"><tspan font-style="italic">P</tspan> &lt; 0.0001</text>
<g stroke-width="1.6"><line x1="1313" y1="1013" x2="1345" y2="1013" stroke="#4cd37a"/><line x1="1313" y1="1040" x2="1345" y2="1040" stroke="#f22"/></g>
<circle cx="1329" cy="1013" r="4" fill="#4cd37a"/><rect x="1325" y="1036" width="8" height="8" fill="#f22"/>
<g class="t"><text x="1360" y="1019">Vector</text><text x="1360" y="1046">Icam1</text></g>

<!-- ============ q ============ -->
<text x="203" y="1304" class="ti" text-anchor="middle">83</text>
<text transform="translate(18,1420) rotate(-90)" class="t" text-anchor="middle">Body weight (%)</text>
<path class="ax" d="M66,1327V1515H340M61,1327H66M61,1365H66M61,1402H66M61,1440H66M61,1477H66M61,1515H66"/>
<path class="ax" d="M67,1515V1521M101,1515V1521M135,1515V1521M169,1515V1521M204,1515V1521M238,1515V1521M272,1515V1521M306,1515V1521M340,1515V1521"/>
<g class="t" text-anchor="end"><text x="57" y="1333">150</text><text x="57" y="1371">120</text><text x="57" y="1408">90</text><text x="57" y="1446">60</text><text x="57" y="1483">30</text><text x="57" y="1521">0</text></g>
<g class="t" text-anchor="middle"><text x="67" y="1542">0</text><text x="101" y="1542">5</text><text x="135" y="1542">10</text><text x="169" y="1542">15</text><text x="204" y="1542">20</text><text x="238" y="1542">25</text><text x="272" y="1542">30</text><text x="306" y="1542">35</text><text x="340" y="1542">40</text><text x="208" y="1562">Post implantation (days)</text></g>
<text x="175" y="1340" class="p"><tspan font-style="italic">P</tspan> &lt; 0.0001</text>
<g fill="none" stroke-width="1.5">
<path stroke="#3b7fd0" d="M108,1375V1360M128,1367V1352M149,1366V1350M169,1365V1348M190,1362V1345M204,1358V1343M217,1362V1347M231,1365V1350M244,1367V1352M258,1371V1356M272,1375V1360M285,1380V1360M299,1385V1370M313,1388V1373M326,1393V1378M340,1398V1384"/>
<path stroke="#4cd37a" d="M108,1377V1366M128,1373V1362M149,1371V1360M169,1368V1357M190,1365V1352M204,1362V1350M217,1367V1356M231,1375V1364M244,1383V1372M258,1390V1379M272,1393V1382M285,1398V1387M299,1402V1391M306,1402V1391"/>
<path stroke="#f22" d="M67,1390 101,1383 128,1380 169,1377 197,1383 210,1390 224,1400"/>
<path stroke="#4cd37a" d="M67,1390 108,1377 128,1373 149,1371 169,1368 190,1365 204,1362 217,1367 231,1375 244,1383 258,1390 272,1393 285,1398 299,1402 306,1402"/>
<path stroke="#3b7fd0" d="M67,1390 108,1375 128,1367 149,1366 169,1365 190,1362 204,1358 217,1362 231,1365 244,1367 258,1371 272,1375 285,1380 299,1385 313,1388 326,1393 340,1398"/>
</g>
<g fill="#fff" stroke="#f22" stroke-width="1.4"><circle cx="67" cy="1390" r="4"/><circle cx="101" cy="1383" r="4"/><circle cx="128" cy="1380" r="4"/><circle cx="169" cy="1377" r="4"/><circle cx="197" cy="1383" r="4"/><circle cx="210" cy="1390" r="4"/><circle cx="224" cy="1400" r="4"/></g>
<g fill="#fff" stroke="#4cd37a" stroke-width="1.4"><rect x="104" y="1373" width="8" height="8"/><rect x="124" y="1369" width="8" height="8"/><rect x="145" y="1367" width="8" height="8"/><rect x="165" y="1364" width="8" height="8"/><rect x="186" y="1361" width="8" height="8"/><rect x="200" y="1358" width="8" height="8"/><rect x="213" y="1363" width="8" height="8"/><rect x="227" y="1371" width="8" height="8"/><rect x="240" y="1379" width="8" height="8"/><rect x="254" y="1386" width="8" height="8"/><rect x="268" y="1389" width="8" height="8"/><rect x="281" y="1394" width="8" height="8"/><rect x="295" y="1398" width="8" height="8"/><rect x="302" y="1398" width="8" height="8"/></g>
<g fill="#fff" stroke="#3b7fd0" stroke-width="1.4"><path d="M104,1379l4,-8l4,8z M124,1371l4,-8l4,8z M145,1370l4,-8l4,8z M165,1369l4,-8l4,8z M186,1366l4,-8l4,8z M200,1362l4,-8l4,8z M213,1366l4,-8l4,8z M227,1369l4,-8l4,8z M240,1371l4,-8l4,8z M254,1375l4,-8l4,8z M268,1379l4,-8l4,8z M281,1384l4,-8l4,8z M295,1389l4,-8l4,8z M309,1392l4,-8l4,8z M322,1397l4,-8l4,8z M336,1402l4,-8l4,8z"/></g>
<g stroke-width="1.5"><line x1="212" y1="1435" x2="242" y2="1435" stroke="#f22"/><line x1="212" y1="1462" x2="242" y2="1462" stroke="#4cd37a"/><line x1="212" y1="1486" x2="242" y2="1486" stroke="#3b7fd0"/></g>
<circle cx="227" cy="1435" r="4" fill="#fff" stroke="#f22" stroke-width="1.4"/><rect x="223" y="1458" width="8" height="8" fill="#fff" stroke="#4cd37a" stroke-width="1.4"/><path d="M223,1490l4,-8l4,8z" fill="#fff" stroke="#3b7fd0" stroke-width="1.4"/>
<g class="t"><text x="257" y="1441">shCtrl</text><text x="257" y="1468">shICAM1-1</text><text x="257" y="1492">shICAM1-2</text></g>

<!-- ============ r ============ -->
<text x="751" y="1304" class="ti" text-anchor="middle">83</text>
<path class="br" d="M424,1323V1313H1064V1323"/>
<g class="t" text-anchor="middle"><text x="531" y="1339">shCtrl</text><text x="751" y="1339">shICAM1-1</text><text x="966" y="1339">shICAM1-2</text></g>
<rect x="424" y="1345" width="210" height="168" fill="#fff" stroke="#222" stroke-width="1.2"/>
<rect x="640" y="1345" width="210" height="168" fill="#fff" stroke="#222" stroke-width="1.2"/>
<rect x="856" y="1345" width="210" height="168" fill="#fff" stroke="#222" stroke-width="1.2"/>
<g filter="url(#bs)">
<path d="M432,1430C428,1385 470,1355 520,1360C545,1362 555,1365 570,1362C610,1358 632,1395 628,1435C625,1480 585,1505 545,1500C530,1498 520,1498 510,1500C460,1505 435,1470 432,1430Z" fill="#c67ec2"/>
<circle cx="567" cy="1420" r="55" fill="#e7c6e3"/>
<ellipse cx="470" cy="1430" rx="30" ry="45" fill="#b96cb6" opacity=".6"/>
<path d="M648,1430C644,1385 690,1358 740,1362C760,1364 770,1366 785,1363C825,1360 848,1395 845,1435C842,1478 800,1500 760,1497C748,1495 738,1495 728,1498C680,1502 652,1470 648,1430Z" fill="#c982c6"/>
<ellipse cx="790" cy="1420" rx="33" ry="36" fill="#8e4a9a"/>
<path d="M862,1425C858,1385 900,1352 950,1356C975,1358 985,1360 1000,1357C1040,1354 1062,1392 1058,1432C1055,1476 1012,1500 972,1496C960,1494 950,1494 940,1497C892,1500 866,1468 862,1425Z" fill="#cc88c8"/>
<ellipse cx="985" cy="1405" rx="62" ry="45" fill="#9e5aa8"/>
<path d="M930,1415L975,1445L930,1440Z" fill="#fff"/>
</g>
<rect x="607" y="1501" width="12" height="4" fill="#111"/>
<text x="596" y="1498" class="p">500μm</text>

<!-- ============ s ============ -->
<text x="1291" y="1304" class="ti" text-anchor="middle">83</text>
<text transform="translate(1136,1420) rotate(-90)" class="t" text-anchor="middle">Probability of survival</text>
<path class="ax" d="M1182,1327V1515H1460M1177,1327H1182M1177,1365H1182M1177,1402H1182M1177,1440H1182M1177,1477H1182M1177,1515H1182M1182,1515V1521M1238,1515V1521M1293,1515V1521M1349,1515V1521M1404,1515V1521M1460,1515V1521"/>
<g class="t" text-anchor="end"><text x="1173" y="1333">100</text><text x="1173" y="1371">80</text><text x="1173" y="1408">60</text><text x="1173" y="1446">40</text><text x="1173" y="1483">20</text><text x="1173" y="1521">0</text></g>
<g class="t" text-anchor="middle"><text x="1182" y="1542">0</text><text x="1238" y="1542">10</text><text x="1293" y="1542">20</text><text x="1349" y="1542">30</text><text x="1404" y="1542">40</text><text x="1460" y="1542">50</text><text x="1320" y="1562">Survival time (days)</text></g>
<g fill="none" stroke-width="1.6">
<path stroke="#4cd37a" d="M1304,1327H1371V1389H1377V1453H1388V1483H1393V1515"/>
<path stroke="#3b7fd0" d="M1354,1327V1359H1382V1389H1399V1421H1404V1453H1443V1483H1449V1515"/>
<path stroke="#f22" d="M1182,1327H1304V1359H1310V1389H1321V1515"/>
</g>
<g stroke-width="1.5"><line x1="1185" y1="1375" x2="1215" y2="1375" stroke="#f22"/><line x1="1185" y1="1402" x2="1215" y2="1402" stroke="#4cd37a"/><line x1="1185" y1="1428" x2="1215" y2="1428" stroke="#3b7fd0"/></g>
<g class="t"><text x="1232" y="1381">shCtrl</text><text x="1232" y="1408">shICAM1-1</text><text x="1232" y="1434">shICAM1-2</text></g>
<g class="t"><text x="1413" y="1339">MST</text><text x="1413" y="1360" fill="#f22" style="fill:#f22">25</text><text x="1413" y="1382" style="fill:#4cd37a">34.5</text><text x="1413" y="1403" style="fill:#3b7fd0">39.5</text></g>
<text x="1242" y="1475" class="t" style="fill:#4cd37a"><tspan font-style="italic">P</tspan> = 0.0012</text>
<text x="1242" y="1503" class="t" style="fill:#3b7fd0"><tspan font-style="italic">P</tspan> = 0.0012</text>
<line x1="1321" y1="1470" x2="1388" y2="1470" stroke="#4cd37a" stroke-width="1" stroke-dasharray="2,2" marker-end="url(#ag2)"/>
<line x1="1321" y1="1499" x2="1447" y2="1499" stroke="#3b7fd0" stroke-width="1" stroke-dasharray="2,2" marker-end="url(#ab2)"/>
</svg>
</body></html>
